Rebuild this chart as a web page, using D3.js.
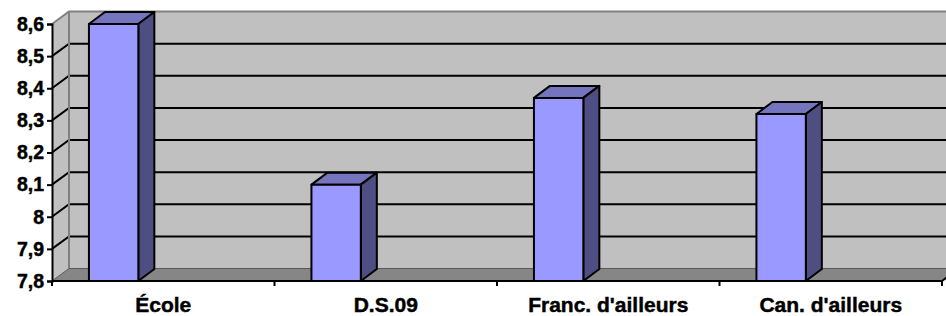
<!DOCTYPE html>
<html>
<head>
<meta charset="utf-8">
<script src="https://cdn.jsdelivr.net/npm/d3@7"></script>
<style>
  body { margin: 0; background: #fff; }
  svg { display: block; font-family: "Liberation Sans", Arial, sans-serif; font-weight: bold; }
  text { stroke: #000; stroke-width: 0.45px; }
</style>
</head>
<body>
<div id="plot"></div>
<script>
const categories = ['École', 'D.S.09', "Franc. d'ailleurs", "Can. d'ailleurs"];
const values = [8.6, 8.1, 8.37, 8.32];
const yTicks = [7.8, 7.9, 8, 8.1, 8.2, 8.3, 8.4, 8.5, 8.6];

const width = 946;
const height = 316;
// 3D depth offset of the wall / bars
const dx = 17, dy = 12.5;

const svg = d3.select("#plot").append("svg")
  .attr("width", width)
  .attr("height", height);

const x = d3.scaleBand()
  .domain(categories)
  .range([52, 942]);

const y = d3.scaleLinear()
  .domain([7.8, 8.6])
  .range([281, 24]);

const x0 = x.range()[0], x1 = x.range()[1];
const yB = y(7.8), yT = y(8.6);

// back wall
svg.append("rect")
  .attr("x", x0 + dx).attr("y", yT - dy)
  .attr("width", x1 - x0).attr("height", yB - yT)
  .attr("fill", "#c0c0c0");

// left side wall
svg.append("polygon")
  .attr("points", [[x0, yT], [x0 + dx, yT - dy], [x0 + dx, yB - dy], [x0, yB]].join(" "))
  .attr("fill", "#c0c0c0");

// floor
svg.append("polygon")
  .attr("points", [[x0, yB], [x0 + dx, yB - dy], [x1 + dx, yB - dy], [x1, yB]].join(" "))
  .attr("fill", "#868686");

// gridlines on back and side walls
const inner = yTicks.slice(1, -1);
svg.selectAll(".grid")
  .data(inner)
  .enter().append("polyline")
  .attr("points", d => [[x0, y(d)], [x0 + dx, y(d) - dy], [x1 + dx, y(d) - dy]].join(" "))
  .attr("fill", "none")
  .attr("stroke", "#000")
  .attr("stroke-width", 2);

// wall edges
svg.append("polyline")
  .attr("points", [[x0, yT], [x0 + dx, yT - dy], [x1 + dx, yT - dy]].join(" "))
  .attr("fill", "none").attr("stroke", "#808080").attr("stroke-width", 2);
svg.append("line")
  .attr("x1", x0 + dx).attr("x2", x0 + dx)
  .attr("y1", yT - dy).attr("y2", yB - dy)
  .attr("stroke", "#808080").attr("stroke-width", 2);
svg.append("line")
  .attr("x1", x0 + dx).attr("x2", x1 + dx)
  .attr("y1", yB - dy).attr("y2", yB - dy)
  .attr("stroke", "#5a5a5a").attr("stroke-width", 1);
svg.append("line")
  .attr("x1", x0).attr("x2", x0 + dx)
  .attr("y1", yB).attr("y2", yB - dy)
  .attr("stroke", "#5a5a5a").attr("stroke-width", 1);
svg.append("line")
  .attr("x1", x1).attr("x2", x1 + dx)
  .attr("y1", yB).attr("y2", yB - dy)
  .attr("stroke", "#000").attr("stroke-width", 2);

// bars
const bOff = x.bandwidth() * 0.166;
const bW = x.bandwidth() * 0.222;
const bdx = 16, bdy = 12;

const bars = svg.selectAll(".bar")
  .data(categories.map((c, i) => ({ c, v: values[i] })))
  .enter().append("g");

bars.append("polygon")
  .attr("points", d => {
    const l = x(d.c) + bOff, r = l + bW, t = y(d.v);
    return [[l, t], [l + bdx, t - bdy], [r + bdx, t - bdy], [r, t]].join(" ");
  })
  .attr("fill", "#7474bf");

bars.append("polygon")
  .attr("points", d => {
    const r = x(d.c) + bOff + bW, t = y(d.v);
    return [[r, t], [r + bdx, t - bdy], [r + bdx, yB - bdy], [r, yB]].join(" ");
  })
  .attr("fill", "#4e4e82");

bars.append("rect")
  .attr("x", d => x(d.c) + bOff)
  .attr("y", d => y(d.v))
  .attr("width", bW)
  .attr("height", d => yB - y(d.v))
  .attr("fill", "#9999ff");

bars.selectAll("polygon, rect")
  .attr("stroke", "#000")
  .attr("stroke-width", 2)
  .attr("stroke-linejoin", "round");

// y axis
const yAxis = d3.axisLeft(y)
  .tickValues(yTicks)
  .tickSize(5)
  .tickPadding(3)
  .tickFormat(d => String(d).replace(".", ","));

const gy = svg.append("g")
  .attr("transform", `translate(${x0},0)`)
  .call(yAxis);
gy.attr("font-family", null).attr("font-size", null);
gy.select(".domain").attr("stroke-width", 2);
gy.selectAll(".tick line").attr("stroke-width", 2);
gy.selectAll("text")
  .attr("font-size", 19.5)
  .attr("fill", "#000");

// x axis
const gx = svg.append("g")
  .attr("transform", `translate(0,${yB})`);
gx.append("line")
  .attr("x1", x0).attr("x2", x1)
  .attr("stroke", "#000").attr("stroke-width", 2);
gx.selectAll(".xt")
  .data(categories.map(c => x(c)).concat([x1]))
  .enter().append("line")
  .attr("x1", d => d).attr("x2", d => d)
  .attr("y1", 0).attr("y2", 5)
  .attr("stroke", "#000").attr("stroke-width", 2);
gx.selectAll(".xl")
  .data(categories)
  .enter().append("text")
  .attr("x", d => x(d) + x.bandwidth() / 2)
  .attr("y", 31)
  .attr("text-anchor", "middle")
  .attr("font-size", 21)
  .text(d => d);
</script>
</body>
</html>
